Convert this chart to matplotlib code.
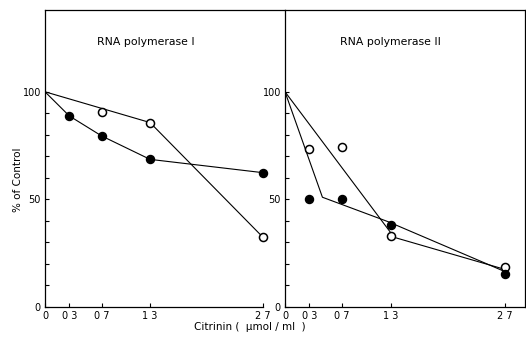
#!/usr/bin/env python3
"""Citrinin inhibition of RNA polymerase I and II (% of control)."""

import matplotlib

matplotlib.use("Agg")
import matplotlib.pyplot as plt

# dose levels and tick labels
doses = [0, 0.3, 0.7, 1.3, 2.7]
dose_labels = ["0", "0 3", "0 7", "1 3", "2 7"]

# RNA polymerase I
pol1_filled_x = [0, 0.3, 0.7, 1.3, 2.7]
pol1_filled_y = [100, 88.8, 79.5, 68.6, 62.4]
pol1_open_x = [0.7, 1.3, 2.7]
pol1_open_y = [90.7, 85.7, 32.3]
pol1_open_line_x = [0, 1.3, 2.7]
pol1_open_line_y = [100, 85.7, 32.3]

# RNA polymerase II
pol2_filled_x = [0.3, 0.7, 1.3, 2.7]
pol2_filled_y = [50.2, 50.0, 38.3, 15.5]
pol2_filled_line_x = [0, 0.46, 1.27, 2.7]
pol2_filled_line_y = [100, 51, 39.6, 16.5]
pol2_open_x = [0.3, 0.7, 1.3, 2.7]
pol2_open_y = [73.6, 74.4, 32.9, 18.5]
pol2_open_line_x = [0, 1.29, 1.33, 2.7]
pol2_open_line_y = [100, 35, 32.5, 17.5]

FS = 7
MS = 5.8


def _style(ax, xmax):
    ax.set_xlim(0, xmax)
    ax.set_ylim(0, 138)
    ax.set_xticks(doses)
    ax.set_xticklabels(dose_labels)
    ax.set_yticks([0, 50, 100])
    ax.set_yticks(range(10, 100, 10), minor=True)
    ax.tick_params(direction="in", length=3, width=0.8, labelsize=FS, pad=3)
    ax.tick_params(which="minor", direction="in", length=3, width=0.8)
    for s in ax.spines.values():
        s.set_linewidth(0.9)


fig = plt.figure(figsize=(5.26, 3.37), dpi=100)
ax1 = fig.add_axes([45 / 526, 30 / 337, 240 / 526, 297 / 337])
ax2 = fig.add_axes([285 / 526, 30 / 337, 240 / 526, 297 / 337])

_style(ax1, 2.97)
ax1.spines["right"].set_visible(False)
ax1.spines["bottom"].set_bounds(0, 2.7)
ax1.plot(pol1_filled_x, pol1_filled_y, "-", color="black", lw=0.8)
ax1.plot(pol1_filled_x[1:], pol1_filled_y[1:], "o", color="black", ms=MS)
ax1.plot(pol1_open_line_x, pol1_open_line_y, "-", color="black", lw=0.8)
ax1.plot(pol1_open_x, pol1_open_y, "o", mfc="white", mec="black", mew=1.1, ms=MS)
ax1.text(1.25, 123, "RNA polymerase I", ha="center", va="center", fontsize=7.8)
ax1.set_ylabel("% of Control", fontsize=FS + 0.5)
ax1.yaxis.set_label_coords(-22 / 240, 0.43)

_style(ax2, 2.95)
ax2.plot(pol2_filled_line_x, pol2_filled_line_y, "-", color="black", lw=0.8)
ax2.plot(pol2_open_line_x, pol2_open_line_y, "-", color="black", lw=0.8)
ax2.plot(pol2_open_x, pol2_open_y, "o", mfc="white", mec="black", mew=1.1, ms=MS)
ax2.plot(pol2_filled_x, pol2_filled_y, "o", color="black", ms=MS)
ax2.text(1.30, 123, "RNA polymerase II", ha="center", va="center", fontsize=7.8)

fig.text(250 / 526, 10 / 337, "Citrinin (  μmol / ml  )", ha="center", va="center",
         fontsize=FS + 0.5)

fig.savefig("out.png", dpi=100)
